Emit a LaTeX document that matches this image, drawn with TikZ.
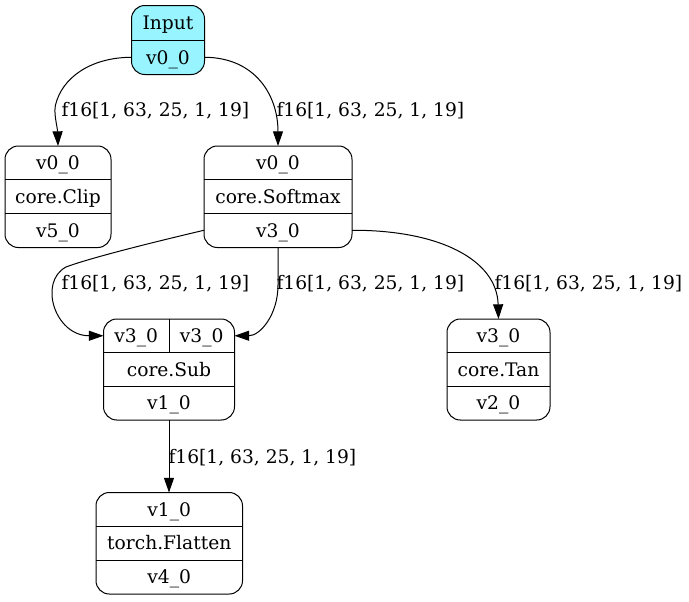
\documentclass[tikz,border=0pt]{standalone}
\usepackage{fontspec}
\setmainfont{DejaVu Serif}
\usetikzlibrary{arrows.meta,fit}
\definecolor{inpfill}{HTML}{98F5FF}
\begin{document}
\begin{tikzpicture}[x=0.75pt,y=-0.75pt,
  font=\fontsize{14pt}{16pt}\selectfont,
  every node/.style={inner sep=0pt, outer sep=0pt},
  recbox/.style={draw, line width=0.75pt, rounded corners=10pt},
  cellbox/.style={},
  cell/.style={text height=10.2pt, text depth=0pt, anchor=center},
  divline/.style={line width=0.75pt},
  conn/.style={line width=0.75pt, -{Triangle[length=11pt,width=7.5pt]}},
  elabel/.style={anchor=west, text height=10.2pt, text depth=0pt}]
\useasboundingbox (0,0) rectangle (689,601);

% Input
\node[recbox, fill=inpfill, fit={(131.5,5.5) (204.5,74.5)}] (inp) {};
\node[cellbox, fit={(131.5,5.5) (204.5,40)}] (inpT) {};
\node[cellbox, fit={(131.5,40) (204.5,74.5)}] (inpB) {};
\node[cell] (inpTt) at (inpT.center) {Input};
\node[cell] (inpBt) at (inpB.center) {v0\_0};
\draw[divline] (inpT.south west) -- (inpT.south east);

% Clip
\node[recbox, fit={(5,146) (111,247.5)}] (clip) {};
\node[cellbox, fit={(5,146) (111,179.5)}] (clipT) {};
\node[cellbox, fit={(5,179.5) (111,213)}] (clipM) {};
\node[cellbox, fit={(5,213) (111,247.5)}] (clipB) {};
\node[cell] (clipTt) at (clipT.center) {v0\_0};
\node[cell] (clipMt) at (clipM.center) {core.Clip};
\node[cell] (clipBt) at (clipB.center) {v5\_0};
\draw[divline] (clipT.south west) -- (clipT.south east);
\draw[divline] (clipM.south west) -- (clipM.south east);

% Softmax
\node[recbox, fit={(204,146) (352,247.5)}] (sm) {};
\node[cellbox, fit={(204,146) (352,179.5)}] (smT) {};
\node[cellbox, fit={(204,179.5) (352,213)}] (smM) {};
\node[cellbox, fit={(204,213) (352,247.5)}] (smB) {};
\node[cell] (smTt) at (smT.center) {v0\_0};
\node[cell] (smMt) at (smM.center) {core.Softmax};
\node[cell] (smBt) at (smB.center) {v3\_0};
\draw[divline] (smT.south west) -- (smT.south east);
\draw[divline] (smM.south west) -- (smM.south east);

% Sub
\node[recbox, fit={(103.5,319) (234.5,420)}] (sub) {};
\node[cellbox, fit={(103.5,319) (169,352.5)}] (subL) {};
\node[cellbox, fit={(169,319) (234.5,352.5)}] (subR) {};
\node[cellbox, fit={(103.5,352.5) (234.5,386)}] (subM) {};
\node[cellbox, fit={(103.5,386) (234.5,420)}] (subB) {};
\node[cell] (subLt) at (subL.center) {v3\_0};
\node[cell] (subRt) at (subR.center) {v3\_0};
\node[cell] (subMt) at (subM.center) {core.Sub};
\node[cell] (subBt) at (subB.center) {v1\_0};
\draw[divline] (subL.south west) -- (subR.south east);
\draw[divline] (subL.north east) -- (subL.south east);
\draw[divline] (subM.south west) -- (subM.south east);

% Tan
\node[recbox, fit={(447,319) (550,420)}] (tan) {};
\node[cellbox, fit={(447,319) (550,352.5)}] (tanT) {};
\node[cellbox, fit={(447,352.5) (550,386)}] (tanM) {};
\node[cellbox, fit={(447,386) (550,420)}] (tanB) {};
\node[cell] (tanTt) at (tanT.center) {v3\_0};
\node[cell] (tanMt) at (tanM.center) {core.Tan};
\node[cell] (tanBt) at (tanB.center) {v2\_0};
\draw[divline] (tanT.south west) -- (tanT.south east);
\draw[divline] (tanM.south west) -- (tanM.south east);

% Flatten
\node[recbox, fit={(96,492.5) (242.5,594)}] (flat) {};
\node[cellbox, fit={(96,492.5) (242.5,526)}] (flatT) {};
\node[cellbox, fit={(96,526) (242.5,560)}] (flatM) {};
\node[cellbox, fit={(96,560) (242.5,594)}] (flatB) {};
\node[cell] (flatTt) at (flatT.center) {v1\_0};
\node[cell] (flatMt) at (flatM.center) {torch.Flatten};
\node[cell] (flatBt) at (flatB.center) {v4\_0};
\draw[divline] (flatT.south west) -- (flatT.south east);
\draw[divline] (flatM.south west) -- (flatM.south east);

% connectors
\draw[conn] (inpB.west) .. controls (90,57.5) and (62,78) .. (55.5,105)
  .. controls (53.5,113) and (57.5,128) .. (clip.north);
\draw[conn] (inpB.east) .. controls (255,57.5) and (278,95) .. (sm.north);
\draw[conn] (smB.west) .. controls (150,243) and (90,258) .. (66,267)
  .. controls (38,282) and (55,335.75) .. (subL.west);
\draw[conn] (smB.south) -- (278,285) .. controls (278,315) and (260,335.75) .. (subR.east);
\draw[conn] (smB.east) .. controls (440,230) and (497,260) .. (tan.north);
\draw[conn] (subB.south) -- (subB.south |- flat.north);

% labels
\node[elabel] (l1) at (61.5,110) {f16[1, 63, 25, 1, 19]};
\node[elabel] (l2) at (276.5,110) {f16[1, 63, 25, 1, 19]};
\node[elabel] (l3) at (61.5,283) {f16[1, 63, 25, 1, 19]};
\node[elabel] (l4) at (276.5,283) {f16[1, 63, 25, 1, 19]};
\node[elabel] (l5) at (494.5,283) {f16[1, 63, 25, 1, 19]};
\node[elabel] (l6) at (168.5,457) {f16[1, 63, 25, 1, 19]};
\end{tikzpicture}
\end{document}
